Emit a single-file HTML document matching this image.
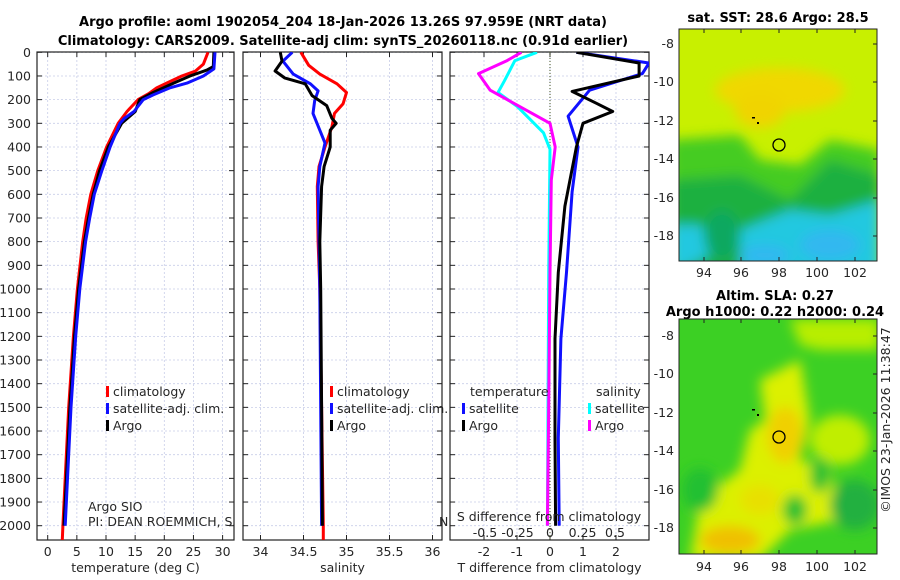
<!DOCTYPE html>
<html><head><meta charset="utf-8">
<style>
body{margin:0;background:#fff;}
svg{display:block;font-family:"DejaVu Sans","Liberation Sans",sans-serif;}
.t{font-size:12.5px;fill:#262626;}
.b{font-weight:bold;font-size:13px;fill:#000;}
</style></head>
<body>
<svg id="c" width="900" height="580" viewBox="0 0 900 580">
<text class="b" x="343" y="26" text-anchor="middle">Argo profile: aoml 1902054_204 18-Jan-2026 13.26S 97.959E (NRT data)</text>
<text class="b" x="343" y="45" text-anchor="middle">Climatology: CARS2009. Satellite-adj clim: synTS_20260118.nc (0.91d earlier)</text>
<text class="t" x="890" y="420" text-anchor="middle" transform="rotate(-90 890 420)">©IMOS 23-Jan-2026 11:38:47</text>
</svg>
<script>
// ---------- data ----------
const depthTicks = [0,100,200,300,400,500,600,700,800,900,1000,1100,1200,1300,1400,1500,1600,1700,1800,1900,2000];
const tempTicks = [0,5,10,15,20,25,30];
const salTicks = [34,34.5,35,35.5,36];
const salTickLabels = ["34","34.5","35","35.5","36"];
const tdTicks = [-2,-1,0,1,2];
const sdTicks = [-0.5,-0.25,0,0.25,0.5];
const sdTickLabels = ["-0.5","-0.25","0","0.25","0.5"];

const tClimDepth = [0,50,80,100,130,150,175,200,250,300,400,500,600,700,800,1000,1200,1500,1800,2000,2060];
const tClim      = [27.5,26.7,25.3,23,20.4,18.7,17.3,15.5,13.6,12.1,10.1,8.6,7.4,6.6,6.0,5.1,4.4,3.6,3.0,2.6,2.5];
const tArgoDepth = [0,60,75,100,130,170,200,250,300,400,500,600,700,800,1000,1200,1500,1800,2000];
const tArgo      = [28.5,28.4,27.3,24.4,21.6,18.1,15.8,15,12.7,10.4,8.9,7.8,7.0,6.3,5.3,4.6,3.8,3.2,2.8];
const tSatDepth  = [0,70,100,130,150,180,200,250,280,300,400,500,600,700,800,1000,1200,1500,1800,2000];
const tSat       = [28.7,28.5,26.7,23.9,21,18.1,16.4,14.8,13.1,12.4,10.7,9.3,8.0,7.2,6.5,5.5,4.8,4.0,3.4,3.0];

const sClimDepth = [0,55,92,133,170,217,258,315,400,483,567,800,1000,1500,2000,2060];
const sClim      = [34.47,34.56,34.69,34.89,35.0,34.96,34.86,34.83,34.75,34.68,34.66,34.67,34.69,34.71,34.73,34.73];
const sArgoDepth = [0,37,79,108,133,183,225,279,300,329,400,483,567,800,1000,1500,2000];
const sArgo      = [34.23,34.25,34.17,34.28,34.52,34.6,34.77,34.83,34.88,34.81,34.81,34.74,34.71,34.69,34.70,34.71,34.72];
const sSatDepth  = [0,37,92,133,163,204,258,329,383,483,567,800,1000,1500,2000];
const sSat       = [34.37,34.26,34.38,34.58,34.67,34.63,34.61,34.69,34.75,34.69,34.67,34.68,34.69,34.70,34.71];

const dTArgoDepth = [0,45,100,165,215,250,300,400,650,930,1210,1630,2000];
const dTArgo      = [0.8,2.7,2.7,0.67,1.4,1.9,1.0,0.8,0.45,0.25,0.15,0.15,0.17];
const dTSatDepth  = [0,45,90,160,270,400,590,930,1210,1630,2000];
const dTSat       = [0.8,3.0,2.8,1.2,0.55,0.85,0.67,0.5,0.33,0.25,0.28];
const dSArgoDepth = [0,35,90,160,200,300,400,540,930,1500,2000];
const dSArgo      = [-0.22,-0.33,-0.55,-0.46,-0.33,0.0,0.04,0.01,0.0,-0.01,-0.02];
const dSSatDepth  = [0,35,120,170,230,340,410,930,1500,2000];
const dSSat       = [-0.1,-0.27,-0.35,-0.4,-0.25,-0.05,0.0,-0.01,-0.015,-0.02];

// ---------- axes ----------
const NS='http://www.w3.org/2000/svg';
const svg=document.getElementById('c');
const Y0=52.3, PXM=0.2367, TOP=52, BOT=540;
const yD = d => Y0 + d*PXM;
const xT = v => 47.7 + v*5.83;
const xS = v => 260.5 + (v-34)*86;
const xTD = v => 550 + v*33;
const xSD = v => 550 + v*130;
function mk(tag,attrs,parent){const e=document.createElementNS(NS,tag);for(const k in attrs)e.setAttribute(k,attrs[k]);(parent||svg).appendChild(e);return e;}
function txt(s,x,y,anchor,cls){const e=mk('text',{x:x,y:y,'text-anchor':anchor||'start','class':cls||'t'});e.textContent=s;return e;}

const panels=[
 {name:'temperature-panel',x0:37,x1:234,ticks:tempTicks,labels:tempTicks.map(String),fx:xT,xlabel:'temperature (deg C)'},
 {name:'salinity-panel',x0:243,x1:442,ticks:salTicks,labels:salTickLabels,fx:xS,xlabel:'salinity'},
 {name:'difference-panel',x0:450,x1:649,ticks:tdTicks,labels:tdTicks.map(String),fx:xTD,xlabel:'T difference from climatology'}
];
panels.forEach((p,pi)=>{
  const g=mk('g',{});
  
  
  // grid
  depthTicks.forEach(d=>{
    const l=mk('line',{x1:p.x0,x2:p.x1,y1:yD(d),y2:yD(d),stroke:'#c8cde8','stroke-width':0.8,'stroke-dasharray':'2,2'},g);
    
    
    mk('line',{x1:p.x0,x2:p.x0+5,y1:yD(d),y2:yD(d),stroke:'#222'},g);
    mk('line',{x1:p.x1,x2:p.x1-5,y1:yD(d),y2:yD(d),stroke:'#222'},g);
  });
  p.ticks.forEach((v,i)=>{
    const x=p.fx(v);
    const l=mk('line',{x1:x,x2:x,y1:TOP,y2:BOT,stroke:'#c8cde8','stroke-width':0.8,'stroke-dasharray':'2,2'},g);
    
    
    mk('line',{x1:x,x2:x,y1:BOT,y2:BOT-5,stroke:'#222'},g);
    mk('line',{x1:x,x2:x,y1:TOP,y2:TOP+5,stroke:'#222'},g);
    const t=txt(p.labels[i],x,556,'middle');
    
    
  });
  mk('rect',{x:p.x0,y:TOP,width:p.x1-p.x0,height:BOT-TOP,fill:'none',stroke:'#222','stroke-width':1.2},g);
  const xl=txt(p.xlabel,(p.x0+p.x1)/2,572,'middle');
  
  
});
depthTicks.forEach(d=>{
  const t=txt(String(d),31,yD(d)+4.5,'end');
  
  
});
// zero line in difference panel
const zl=mk('line',{x1:xTD(0),x2:xTD(0),y1:TOP,y2:BOT,stroke:'#445522','stroke-width':1,'stroke-dasharray':'1,2'});



function clip(id,x0,x1){const cp=mk('clipPath',{id:id});mk('rect',{x:x0,y:TOP,width:x1-x0,height:BOT-TOP},cp);}
clip('cp1',37,234);clip('cp2',243,442);clip('cp3',450,649);
function series(depths,vals,fx,color,cp,name){
  const pts=depths.map((d,i)=>fx(vals[i]).toFixed(1)+','+yD(d).toFixed(1)).join(' ');
  const e=mk('polyline',{points:pts,fill:'none',stroke:color,'stroke-width':3,'stroke-linejoin':'round','clip-path':'url(#'+cp+')'});
  
  
}
series(tClimDepth,tClim,xT,'#ff0000','cp1','temp-climatology-line');
series(tArgoDepth,tArgo,xT,'#000000','cp1','temp-argo-line');
series(tSatDepth,tSat,xT,'#1010ff','cp1','temp-satellite-line');
series(sClimDepth,sClim,xS,'#ff0000','cp2','sal-climatology-line');
series(sSatDepth,sSat,xS,'#1010ff','cp2','sal-satellite-line');
series(sArgoDepth,sArgo,xS,'#000000','cp2','sal-argo-line');
series(dSSatDepth,dSSat,xSD,'#00ffff','cp3','sdiff-satellite-line');
series(dSArgoDepth,dSArgo,xSD,'#ff00ff','cp3','sdiff-argo-line');
series(dTSatDepth,dTSat,xTD,'#1010ff','cp3','tdiff-satellite-line');
series(dTArgoDepth,dTArgo,xTD,'#000000','cp3','tdiff-argo-line');

// legends
function leg(x,y,color,label,name){
  const g=mk('g',{});
  
  
  mk('rect',{x:x,y:y-10,width:3,height:11,fill:color},g);
  const t=document.createElementNS(NS,'text');t.setAttribute('x',x+7);t.setAttribute('y',y);t.setAttribute('class','t');t.textContent=label;g.appendChild(t);
}
leg(106,396,'#ff0000','climatology','legend-climatology');
leg(106,413,'#1010ff','satellite-adj. clim.','legend-satellite-adj');
leg(106,430,'#000000','Argo','legend-argo');
leg(330,396,'#ff0000','climatology','legend2-climatology');
leg(330,413,'#1010ff','satellite-adj. clim.','legend2-satellite-adj');
leg(330,430,'#000000','Argo','legend2-argo');
txt('temperature',470,396);
txt('salinity',596,396);
leg(462,413,'#1010ff','satellite','legend-t-satellite');
leg(462,430,'#000000','Argo','legend-t-argo');
leg(588,413,'#00ffff','satellite','legend-s-satellite');
leg(588,430,'#ff00ff','Argo','legend-s-argo');
const g1=txt('Argo SIO',88,511);g1.setAttribute('font-size','11');
const cpI=mk('clipPath',{id:'cpI'});mk('rect',{x:0,y:500,width:234,height:40},cpI);
const g2=txt('PI: DEAN ROEMMICH, SARAH',88,526);g2.setAttribute('font-size','11');g2.setAttribute('clip-path','url(#cpI)');
txt('N',439,526).setAttribute('font-size','11');
const sdl=txt('S difference from climatology',549,521,'middle');


sdTicks.forEach((v,i)=>{
  const t=txt(sdTickLabels[i],xSD(v),537,'middle');
  
  
});
</script>

<!-- maps -->
<svg width="900" height="580" style="position:absolute;left:0;top:0">
<defs>
<filter id="bl" x="-20%" y="-20%" width="140%" height="140%"><feGaussianBlur stdDeviation="6"/></filter>
<clipPath id="m1"><rect x="679" y="29" width="198" height="232"/></clipPath>
<clipPath id="m2"><rect x="679" y="319" width="198" height="235"/></clipPath>
</defs>
<text class="b" x="778" y="22" text-anchor="middle" font-family="DejaVu Sans">sat. SST: 28.6 Argo: 28.5</text>
<g clip-path="url(#m1)">
<rect x="679" y="29" width="198" height="232" fill="#c8f000"/>
<g filter="url(#bl)">
<ellipse cx="780" cy="90" rx="65" ry="22" fill="#f0d800"/>
<ellipse cx="760" cy="110" rx="25" ry="18" fill="#f0d400"/>
<polygon points="670,140 740,135 760,160 800,165 830,140 880,150 880,280 670,280" fill="#44cc22"/>
<polygon points="670,180 740,175 790,200 830,160 880,175 880,280 670,280" fill="#1cb040"/>
<polygon points="670,225 700,225 720,250 680,270 670,270" fill="#20c8e0"/>
<polygon points="740,230 790,210 830,215 880,200 880,280 740,280" fill="#20c8e0"/>
<ellipse cx="830" cy="245" rx="30" ry="15" fill="#30b8f0"/>
<ellipse cx="765" cy="255" rx="25" ry="10" fill="#30b8f0"/>
<ellipse cx="722" cy="235" rx="18" ry="25" fill="#10a860"/>
</g>
</g>
<rect x="679" y="29" width="198" height="232" fill="none" stroke="#222"/>
<text class="b" x="775" y="300" text-anchor="middle" font-family="DejaVu Sans">Altim. SLA: 0.27</text>
<text class="b" x="775" y="316" text-anchor="middle" font-family="DejaVu Sans">Argo h1000: 0.22 h2000: 0.24</text>
<g clip-path="url(#m2)">
<rect x="679" y="319" width="198" height="235" fill="#3cd024"/>
<g filter="url(#bl)">
<polygon points="790,319 880,319 880,350 820,350 800,345" fill="#b8ee00"/>
<polygon points="760,380 800,360 810,420 800,460 830,470 840,520 790,530 760,560 690,560 700,500 740,470 750,430 765,420" fill="#dcf000"/>
<ellipse cx="785" cy="435" rx="18" ry="28" fill="#f0d000"/>
<ellipse cx="730" cy="540" rx="30" ry="14" fill="#f0c000"/>
<ellipse cx="760" cy="500" rx="20" ry="15" fill="#e8e000"/>
<ellipse cx="840" cy="440" rx="30" ry="25" fill="#c0ee00"/>
<ellipse cx="855" cy="505" rx="25" ry="25" fill="#22b040"/>
<ellipse cx="820" cy="475" rx="10" ry="18" fill="#22c030"/>
<ellipse cx="795" cy="510" rx="12" ry="15" fill="#22c030"/>
<ellipse cx="700" cy="490" rx="18" ry="22" fill="#22c030"/>
</g>
</g>
<rect x="679" y="319" width="198" height="235" fill="none" stroke="#222"/>
<g font-family="DejaVu Sans" font-size="12.5" fill="#262626">
<text x="674" y="48" text-anchor="end">-8</text><text x="674" y="86" text-anchor="end">-10</text><text x="674" y="125" text-anchor="end">-12</text><text x="674" y="163" text-anchor="end">-14</text><text x="674" y="202" text-anchor="end">-16</text><text x="674" y="240" text-anchor="end">-18</text>
<text x="674" y="340" text-anchor="end">-8</text><text x="674" y="378" text-anchor="end">-10</text><text x="674" y="417" text-anchor="end">-12</text><text x="674" y="455" text-anchor="end">-14</text><text x="674" y="494" text-anchor="end">-16</text><text x="674" y="532" text-anchor="end">-18</text>
<text x="704" y="277" text-anchor="middle">94</text><text x="741" y="277" text-anchor="middle">96</text><text x="779" y="277" text-anchor="middle">98</text><text x="817" y="277" text-anchor="middle">100</text><text x="855" y="277" text-anchor="middle">102</text>
<text x="704" y="571" text-anchor="middle">94</text><text x="741" y="571" text-anchor="middle">96</text><text x="779" y="571" text-anchor="middle">98</text><text x="817" y="571" text-anchor="middle">100</text><text x="855" y="571" text-anchor="middle">102</text>
</g>
<g stroke="#222">
<path d="M877,44h-4M877,82h-4M877,121h-4M877,159h-4M877,198h-4M877,236h-4M877,336h-4M877,374h-4M877,413h-4M877,451h-4M877,490h-4M877,528h-4"/>
<path d="M704,29v4M741,29v4M779,29v4M817,29v4M855,29v4M704,261v-4M741,261v-4M779,261v-4M817,261v-4M855,261v-4M704,319v4M741,319v4M779,319v4M817,319v4M855,319v4M704,554v-4M741,554v-4M779,554v-4M817,554v-4M855,554v-4"/>
</g>
<circle cx="779" cy="145" r="6" fill="none" stroke="#000" stroke-width="1.3"/>
<circle cx="779" cy="437" r="6" fill="none" stroke="#000" stroke-width="1.3"/>
<g fill="#000">
<rect x="752" y="117" width="3" height="1.5"/><rect x="757" y="122" width="2" height="2"/>
<rect x="752" y="409" width="3" height="1.5"/><rect x="757" y="414" width="2" height="2"/>
</g>
</svg>
</body></html>
